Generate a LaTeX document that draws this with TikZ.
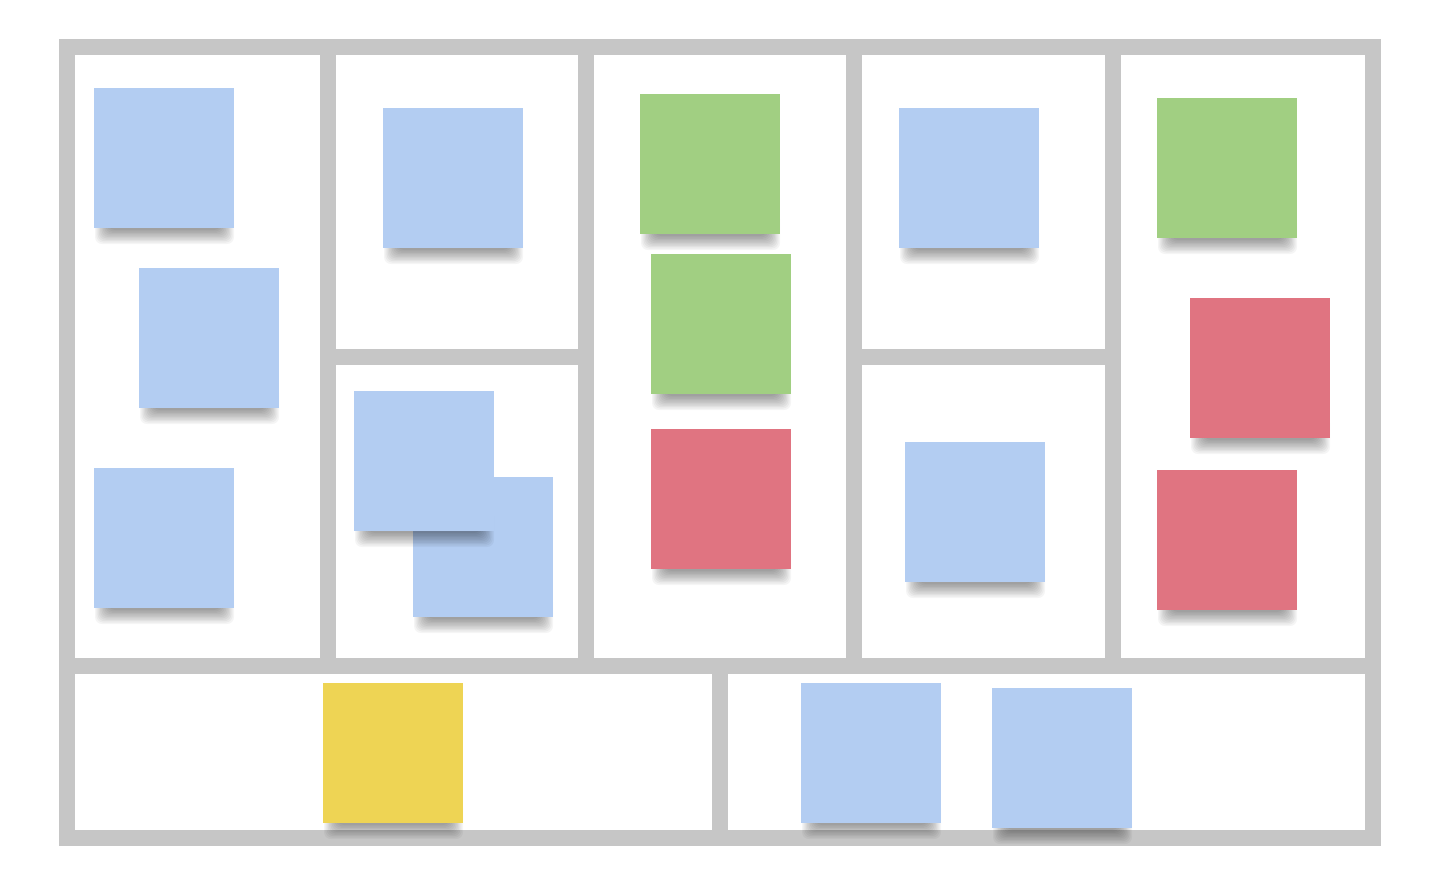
\documentclass[tikz,border=0pt]{standalone}
\definecolor{framegray}{HTML}{C6C6C6}
\definecolor{nblue}{HTML}{B3CDF2}
\definecolor{ngreen}{HTML}{A1CF82}
\definecolor{nred}{HTML}{E07481}
\definecolor{nyellow}{HTML}{EED454}
\tikzset{
  gridline/.style={draw=framegray,line width=15.5pt},
  note/.style={fill=#1,minimum width=140pt,minimum height=140pt,inner sep=0pt,outer sep=0pt,draw=none},
  shadelayer/.style={fill=black,opacity=0.04,rounded corners=7pt},
}
\newcommand\sticky[4]{%
  \foreach \k in {0,...,10}{%
    \fill[shadelayer] ({#3-56-1.3*\k},{#4+48}) rectangle ({#3+57+1.3*\k},{#4+72+1.4*\k});
  }%
  \node[note=#2] (#1) at (#3,#4) {};%
}
\begin{document}
\begin{tikzpicture}[x=1pt,y=-1pt]
\fill[white] (0,0) rectangle (1440,887);
\useasboundingbox (0,0) rectangle (1440,887);
% frame
\draw[gridline] (67,47) rectangle (1373,838);
\draw[gridline] (328,47) -- (328,666);
\draw[gridline] (586,47) -- (586,666);
\draw[gridline] (854,47) -- (854,666);
\draw[gridline] (1113,47) -- (1113,666);
\draw[gridline] (328,357) -- (586,357);
\draw[gridline] (854,357) -- (1113,357);
\draw[gridline] (67,666) -- (1373,666);
\draw[gridline] (720,666) -- (720,838);
% notes
\sticky{a1}{nblue}{164}{158}
\sticky{a2}{nblue}{209}{338}
\sticky{a3}{nblue}{164}{538}
\sticky{b1}{nblue}{453}{178}
\sticky{b2}{nblue}{483}{547}
\sticky{b3}{nblue}{424}{461}
\sticky{c1}{ngreen}{710}{164}
\sticky{c2}{ngreen}{721}{324}
\sticky{c3}{nred}{721}{499}
\sticky{d1}{nblue}{969}{178}
\sticky{d2}{nblue}{975}{512}
\sticky{e1}{ngreen}{1227}{168}
\sticky{e2}{nred}{1260}{368}
\sticky{e3}{nred}{1227}{540}
\sticky{f1}{nyellow}{393}{753}
\sticky{f2}{nblue}{871}{753}
\sticky{f3}{nblue}{1062}{758}
\end{tikzpicture}
\end{document}
